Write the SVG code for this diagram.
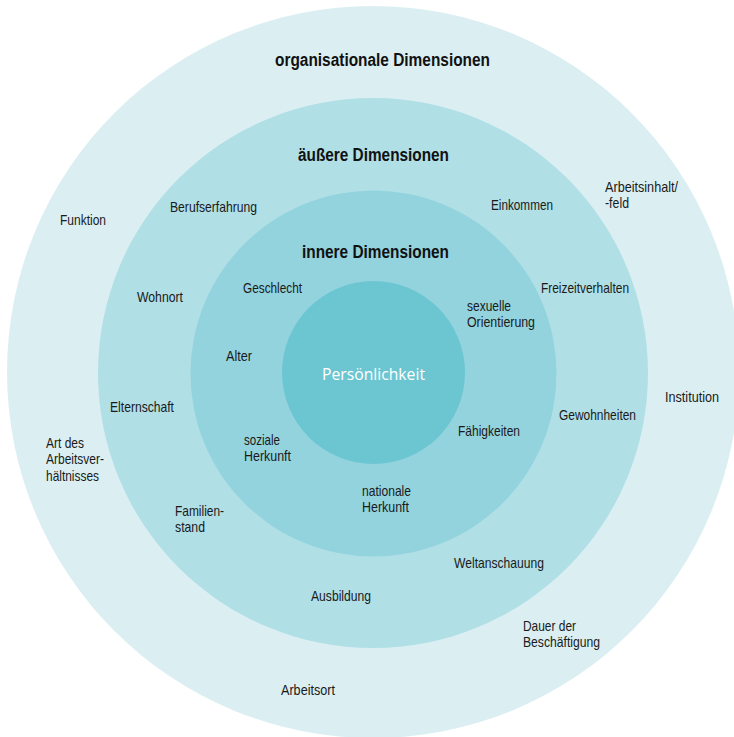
<svg xmlns="http://www.w3.org/2000/svg" width="734" height="737" viewBox="0 0 734 737">
<style>
text{font-family:"Liberation Sans",Arial,sans-serif;font-size:14.5px;fill:#1a1a1a}
.t{font-weight:bold;font-size:18px;fill:#111}
.p{font-family:"Open Sans","Noto Sans",sans-serif;font-size:15.5px;fill:#fff}
</style>
<rect width="734" height="737" fill="#fff"/>
<g id="ring-organisational"><circle cx="373" cy="372" r="366" fill="#DBEFF3"/></g>
<g id="ring-aeussere"><circle cx="373" cy="373" r="275" fill="#B0DFE6"/></g>
<g id="ring-innere"><circle cx="373.5" cy="373.5" r="183" fill="#93D3DE"/></g>
<g id="core"><circle cx="373.5" cy="372.5" r="91.5" fill="#6CC6D2"/><text class="p" x="322" y="380" textLength="103" lengthAdjust="spacingAndGlyphs">Persönlichkeit</text></g>
<g id="titles">
<text class="t" x="275" y="66" textLength="215" lengthAdjust="spacingAndGlyphs">organisationale Dimensionen</text>
<text class="t" x="298" y="161" textLength="151" lengthAdjust="spacingAndGlyphs">äußere Dimensionen</text>
<text class="t" x="302" y="258" textLength="147" lengthAdjust="spacingAndGlyphs">innere Dimensionen</text>
</g>
<g id="labels-organisational">
<text x="60" y="225" textLength="46" lengthAdjust="spacingAndGlyphs">Funktion</text>
<text x="605" y="192" textLength="73" lengthAdjust="spacingAndGlyphs">Arbeitsinhalt/</text>
<text x="605" y="208" textLength="24" lengthAdjust="spacingAndGlyphs">-feld</text>
<text x="665" y="402" textLength="54" lengthAdjust="spacingAndGlyphs">Institution</text>
<text x="46" y="448" textLength="38" lengthAdjust="spacingAndGlyphs">Art des</text>
<text x="46" y="464" textLength="58" lengthAdjust="spacingAndGlyphs">Arbeitsver-</text>
<text x="46" y="481" textLength="53" lengthAdjust="spacingAndGlyphs">hältnisses</text>
<text x="523" y="631" textLength="53" lengthAdjust="spacingAndGlyphs">Dauer der</text>
<text x="523" y="647" textLength="77" lengthAdjust="spacingAndGlyphs">Beschäftigung</text>
<text x="281" y="695" textLength="54" lengthAdjust="spacingAndGlyphs">Arbeitsort</text>
</g>
<g id="labels-aeussere">
<text x="170" y="212" textLength="87" lengthAdjust="spacingAndGlyphs">Berufserfahrung</text>
<text x="491" y="210" textLength="62" lengthAdjust="spacingAndGlyphs">Einkommen</text>
<text x="137" y="302" textLength="46" lengthAdjust="spacingAndGlyphs">Wohnort</text>
<text x="541" y="293" textLength="88" lengthAdjust="spacingAndGlyphs">Freizeitverhalten</text>
<text x="110" y="412" textLength="64" lengthAdjust="spacingAndGlyphs">Elternschaft</text>
<text x="559" y="420" textLength="77" lengthAdjust="spacingAndGlyphs">Gewohnheiten</text>
<text x="175" y="516" textLength="49" lengthAdjust="spacingAndGlyphs">Familien-</text>
<text x="175" y="532" textLength="30" lengthAdjust="spacingAndGlyphs">stand</text>
<text x="454" y="568" textLength="90" lengthAdjust="spacingAndGlyphs">Weltanschauung</text>
<text x="311" y="601" textLength="60" lengthAdjust="spacingAndGlyphs">Ausbildung</text>
</g>
<g id="labels-innere">
<text x="243" y="293" textLength="59" lengthAdjust="spacingAndGlyphs">Geschlecht</text>
<text x="467" y="311" textLength="44" lengthAdjust="spacingAndGlyphs">sexuelle</text>
<text x="467" y="327" textLength="68" lengthAdjust="spacingAndGlyphs">Orientierung</text>
<text x="226" y="361" textLength="26" lengthAdjust="spacingAndGlyphs">Alter</text>
<text x="458" y="436" textLength="62" lengthAdjust="spacingAndGlyphs">Fähigkeiten</text>
<text x="244" y="445" textLength="36" lengthAdjust="spacingAndGlyphs">soziale</text>
<text x="244" y="461" textLength="47" lengthAdjust="spacingAndGlyphs">Herkunft</text>
<text x="362" y="496" textLength="49" lengthAdjust="spacingAndGlyphs">nationale</text>
<text x="362" y="512" textLength="47" lengthAdjust="spacingAndGlyphs">Herkunft</text>
</g>
</svg>
